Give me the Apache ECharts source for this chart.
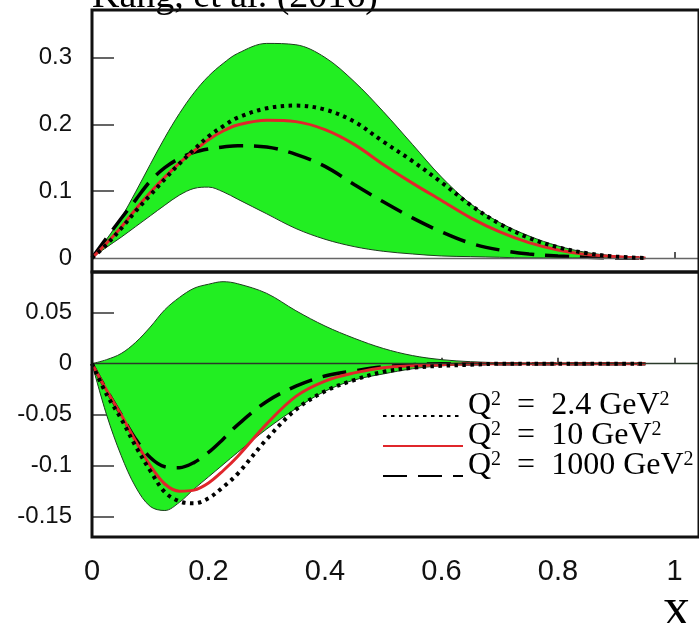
<!DOCTYPE html>
<html>
<head>
<meta charset="utf-8">
<script src="https://cdn.jsdelivr.net/npm/echarts@6/dist/echarts.min.js"></script>
<style>
  html, body { margin: 0; padding: 0; background: #fff; }
  #chart { width: 699px; height: 623px; }
</style>
</head>
<body>
<div id="chart"></div>
<script>
// x grid shared by every curve in both panels
const xs = [0, 0.025, 0.05, 0.075, 0.1, 0.125, 0.15, 0.175, 0.2, 0.225, 0.25, 0.3, 0.35,
            0.4, 0.45, 0.5, 0.55, 0.6, 0.65, 0.7, 0.75, 0.8, 0.85, 0.9, 0.95];

// upper panel: uncertainty band and the three evolved curves
const topBandUpper = [0, 0.028, 0.060, 0.099, 0.140, 0.180, 0.216, 0.247, 0.272, 0.291, 0.306, 0.321, 0.319,
                      0.300, 0.264, 0.219, 0.170, 0.121, 0.081, 0.053, 0.033, 0.018, 0.008, 0.003, 0];
const topBandLower = [0, 0.016, 0.031, 0.047, 0.063, 0.079, 0.094, 0.104, 0.106, 0.099, 0.088, 0.066, 0.044,
                      0.028, 0.017, 0.010, 0.006, 0.003, 0.002, 0.001, 0, 0, 0, 0, 0];
const topQ24   = [0, 0.020, 0.044, 0.070, 0.094, 0.118, 0.141, 0.162, 0.182, 0.197, 0.210, 0.224, 0.228,
                  0.222, 0.204, 0.174, 0.145, 0.113, 0.079, 0.051, 0.030, 0.016, 0.007, 0.002, 0];
const topQ10   = [0, 0.022, 0.046, 0.073, 0.098, 0.121, 0.142, 0.160, 0.177, 0.190, 0.199, 0.206, 0.204,
                  0.192, 0.170, 0.140, 0.112, 0.086, 0.060, 0.039, 0.023, 0.012, 0.005, 0.002, 0];
const topQ1000 = [0, 0.030, 0.059, 0.087, 0.115, 0.135, 0.149, 0.158, 0.163, 0.166, 0.168, 0.166, 0.155,
                  0.137, 0.110, 0.084, 0.060, 0.039, 0.022, 0.012, 0.006, 0.003, 0.001, 0, 0];

// lower panel
const botBandUpper = [0, 0.004, 0.010, 0.021, 0.036, 0.053, 0.065, 0.074, 0.078, 0.0805, 0.0785, 0.069, 0.052,
                      0.037, 0.025, 0.015, 0.008, 0.004, 0.002, 0.001, 0, 0, 0, 0, 0];
const botBandLower = [0, -0.050, -0.090, -0.121, -0.140, -0.144, -0.136, -0.123, -0.111, -0.099, -0.087, -0.064, -0.044,
                      -0.027, -0.016, -0.010, -0.005, -0.002, -0.001, 0, 0, 0, 0, 0, 0];
const botQ24   = [0, -0.030, -0.054, -0.081, -0.105, -0.126, -0.135, -0.137, -0.132, -0.121, -0.108, -0.074, -0.045,
                  -0.027, -0.016, -0.008, -0.004, -0.002, -0.001, 0, 0, 0, 0, 0, 0];
const botQ10   = [0, -0.026, -0.050, -0.076, -0.100, -0.118, -0.125, -0.124, -0.117, -0.105, -0.091, -0.059, -0.032,
                  -0.017, -0.009, -0.004, -0.002, -0.001, 0, 0, 0, 0, 0, 0, 0];
const botQ1000 = [0, -0.026, -0.050, -0.074, -0.092, -0.101, -0.102, -0.097, -0.087, -0.074, -0.060, -0.037, -0.022,
                  -0.012, -0.007, -0.003, -0.001, 0, 0, 0, 0, 0, 0, 0, 0];

// tick labels
const xTicks = [0, 0.2, 0.4, 0.6, 0.8, 1];
const yTicksTop = [0, 0.1, 0.2, 0.3];
const yTicksBot = [-0.15, -0.1, -0.05, 0, 0.05];

const legendNames = ['q24', 'q10', 'q1000'];
const legendLabels = {
  q24:   '{a|Q}{b|2}{a|  =  2.4 GeV}{b|2}',
  q10:   '{a|Q}{b|2}{a|  =  10 GeV}{b|2}',
  q1000: '{a|Q}{b|2}{a|  =  1000 GeV}{b|2}'
};

const pairs = (ys) => xs.map((x, i) => [x, ys[i]]);

const GREEN = '#22ee22';
const EDGE = '#1d3d1d';
const RED = '#e0262b';
const SMOOTH = 0.35;

const styles = {
  q24:   { color: '#000', width: 4, type: [3.5, 4.5], cap: 'butt' },
  q10:   { color: RED, width: 3, type: 'solid' },
  q1000: { color: '#000', width: 3.5, type: [24, 11], cap: 'butt' }
};

// The band is filled from each edge to y = 0; where both edges lie above
// zero (upper panel) the part under the lower edge is painted back to white.
function panelSeries(idx, hi, lo, q24, q10, q1000, zeroColor, lowerFill) {
  const common = { xAxisIndex: idx, yAxisIndex: idx, symbol: 'none', smooth: SMOOTH, animation: false };
  return [
    Object.assign({}, common, {
      type: 'line', name: 'bandHi' + idx, data: pairs(hi),
      lineStyle: { color: EDGE, width: 1 },
      areaStyle: { color: GREEN, opacity: 1 }, z: 1
    }),
    Object.assign({}, common, {
      type: 'line', name: 'bandLo' + idx, data: pairs(lo),
      lineStyle: { color: EDGE, width: 1 },
      areaStyle: { color: lowerFill, opacity: 1 }, z: 2
    }),
    Object.assign({}, common, {
      type: 'line', name: 'q1000', data: pairs(q1000), lineStyle: styles.q1000,
      itemStyle: { color: '#000' }, z: 3,
      markLine: {
        silent: true, symbol: 'none', animation: false,
        label: { show: false },
        lineStyle: { color: zeroColor, width: 1.3, type: 'solid' },
        data: [{ yAxis: 0 }]
      }
    }),
    Object.assign({}, common, { type: 'line', name: 'q10', data: pairs(q10), lineStyle: styles.q10,
      itemStyle: { color: RED }, z: 4 }),
    Object.assign({}, common, { type: 'line', name: 'q24', data: pairs(q24), lineStyle: styles.q24,
      itemStyle: { color: '#000' }, z: 5 })
  ];
}

const fmt = (v) => String(+(+v).toFixed(3));

function xAxis(gridIndex, showLabels) {
  return {
    type: 'value', gridIndex, min: 0, max: 1.042,
    axisLine: { show: false },
    splitLine: { show: false },
    axisTick: { show: true, inside: true, length: 6, customValues: xTicks,
                lineStyle: { color: '#222', width: 1.5 } },
    axisLabel: { show: showLabels, customValues: xTicks, formatter: fmt, margin: 20,
                 fontFamily: 'Liberation Sans', fontSize: 29, color: '#111' }
  };
}

function yAxis(gridIndex, min, max, ticks) {
  return {
    type: 'value', gridIndex, min, max,
    axisLine: { show: false },
    splitLine: { show: false },
    axisTick: { show: true, inside: true, length: 22, customValues: ticks,
                lineStyle: { color: '#333', width: 1.5 } },
    axisLabel: { show: true, customValues: ticks, formatter: fmt, margin: 20,
                 fontFamily: 'Liberation Sans', fontSize: 24, color: '#111' }
  };
}

const chart = echarts.init(document.getElementById('chart'), null, { renderer: 'canvas' });

chart.setOption({
  animation: false,
  backgroundColor: '#fff',
  grid: [
    { left: 92, top: 10, right: 0, height: 262, show: true, borderColor: '#111', borderWidth: 3, backgroundColor: 'transparent', z: 6 },
    { left: 92, top: 272, right: 0, height: 265, show: true, borderColor: '#111', borderWidth: 3, backgroundColor: 'transparent', z: 6 }
  ],
  xAxis: [xAxis(0, false), xAxis(1, true)],
  yAxis: [yAxis(0, -0.021, 0.371, yTicksTop), yAxis(1, -0.17, 0.09, yTicksBot)],
  legend: {
    orient: 'vertical', left: 382, top: 390, padding: 0,
    itemWidth: 80, itemHeight: 14, itemGap: -2,
    selectedMode: false,
    data: legendNames,
    itemStyle: { opacity: 0 },
    formatter: (name) => legendLabels[name],
    textStyle: {
      padding: [0, 0, 20, 0],
      rich: {
        a: { fontFamily: 'Liberation Serif', fontSize: 32, lineHeight: 32, color: '#000' },
        b: { fontFamily: 'Liberation Serif', fontSize: 20, lineHeight: 20, color: '#000', verticalAlign: 'top' }
      }
    }
  },
  graphic: [
    { type: 'text', left: 92, top: -22, silent: true,
      style: { text: 'Kang, et al. (2016)', font: '38px "Liberation Serif"', fill: '#000' } },
    { type: 'text', left: 663, top: 584, silent: true,
      style: { text: 'x', font: '54px "Liberation Serif"', fill: '#000' } }
  ],
  series: [
    ...panelSeries(0, topBandUpper, topBandLower, topQ24, topQ10, topQ1000, '#666', '#fff'),
    ...panelSeries(1, botBandUpper, botBandLower, botQ24, botQ10, botQ1000, '#2a3a2a', GREEN)
  ]
});
</script>
</body>
</html>
